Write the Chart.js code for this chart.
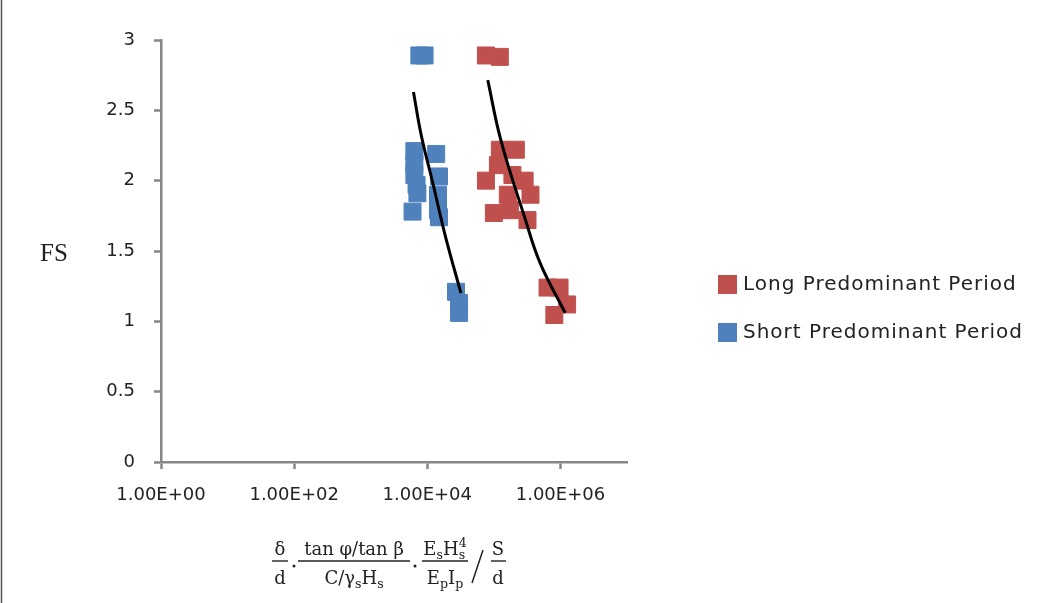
<!DOCTYPE html>
<html><head><meta charset="utf-8">
<script src="https://cdn.jsdelivr.net/npm/chart.js@4.4.0/dist/chart.umd.min.js"></script>
<style>html,body{margin:0;padding:0;background:#fff;}#wrap{width:1041px;height:603px;position:relative;}</style>
</head><body><div id="wrap"><canvas id="c" width="1041" height="603"></canvas></div>
<script>
const seriesNames = ['Long Predominant Period', 'Short Predominant Period'];
const longX = [7.6e4, 1.23e5, 7.6e4, 1.15e5, 1.23e5, 2.14e5, 1.9e5, 2.9e5, 3.55e5, 1.62e5, 1.0e5, 1.74e5, 3.2e5, 6.4e5, 9.7e5, 8.1e5, 1.26e6];
const longY = [2.89, 2.88, 2.00, 2.11, 2.22, 2.22, 2.04, 2.00, 1.90, 1.90, 1.77, 1.79, 1.72, 1.24, 1.24, 1.045, 1.12];
const shortX = [7.6e3, 9.1e3, 6.4e3, 6.4e3, 6.4e3, 6.9e3, 7.1e3, 6.0e3, 1.36e4, 1.5e4, 1.45e4, 1.45e4, 1.5e4, 2.7e4, 3.0e4, 3.0e4];
const shortY = [2.89, 2.89, 2.21, 2.12, 2.04, 1.97, 1.91, 1.78, 2.19, 2.03, 1.90, 1.79, 1.74, 1.21, 1.13, 1.06];
const longTrendX = [8.1e4, 1.27e5, 2.9e5, 5.0e5, 1.18e6];
const longTrendY = [2.715, 2.29, 1.74, 1.41, 1.06];
const shortTrendX = [6.2e3, 8.1e3, 1.23e4, 1.86e4, 3.2e4];
const shortTrendY = [2.63, 2.325, 1.97, 1.61, 1.20];
const xTickValues = [1, 100, 10000, 1000000];
const xTickLabels = ['1.00E+00', '1.00E+02', '1.00E+04', '1.00E+06'];
const yTickValues = [0, 0.5, 1, 1.5, 2, 2.5, 3];
const yTickLabels = ['0', '0.5', '1', '1.5', '2', '2.5', '3'];
const yTitle = 'FS';

const RED = '#C0504D', BLUE = '#4F81BD', AXIS = '#868686', TXT = '#222222';
const zip = (xs, ys) => xs.map((x, i) => ({x: x, y: ys[i]}));

const extras = {
  id: 'extras',
  afterDraw(chart) {
    const ctx = chart.ctx;
    ctx.save();
    ctx.strokeStyle = '#555'; ctx.lineWidth = 1.5;
    ctx.beginPath(); ctx.moveTo(1.5, 0); ctx.lineTo(1.5, 603); ctx.stroke();
    ctx.fillStyle = TXT;
    ctx.font = '25px "Liberation Serif"';
    ctx.textAlign = 'center'; ctx.textBaseline = 'middle';
    ctx.fillText(yTitle, 54, 254);
    const lg = [{c: RED, t: seriesNames[0], y: 284}, {c: BLUE, t: seriesNames[1], y: 332}];
    ctx.font = '20px "DejaVu Sans"';
    ctx.textAlign = 'left';
    lg.forEach(l => {
      ctx.fillStyle = l.c; ctx.fillRect(718, l.y - 9, 19, 19);
      ctx.fillStyle = TXT;
      ctx.letterSpacing = '1px';
      ctx.fillText(l.t, 743, l.y + 1);
      ctx.letterSpacing = '0px';
    });
    const F = 18;
    const fam = '"DejaVu Serif"';
    function w(t, s) { ctx.font = s + 'px ' + fam; return ctx.measureText(t).width; }
    function runsWidth(runs) {
      let tot = 0;
      runs.forEach(r => {
        if (!r[1]) tot += w(r[0], F);
        else if (r[1] === 'sub') tot += w(r[0], F * 0.7);
        else tot += Math.max(w(r[0], F * 0.7), w(r[2], F * 0.7));
      });
      return tot;
    }
    function drawRuns(runs, cx, base) {
      let x = cx - runsWidth(runs) / 2;
      ctx.textAlign = 'left'; ctx.textBaseline = 'alphabetic'; ctx.fillStyle = TXT;
      runs.forEach(r => {
        if (!r[1]) { ctx.font = F + 'px ' + fam; ctx.fillText(r[0], x, base); x += w(r[0], F); }
        else if (r[1] === 'sub') { ctx.font = (F * 0.7) + 'px ' + fam; ctx.fillText(r[0], x, base + 4); x += w(r[0], F * 0.7); }
        else {
          ctx.font = (F * 0.7) + 'px ' + fam;
          ctx.fillText(r[0], x, base + 4); ctx.fillText(r[2], x, base - 8);
          x += Math.max(w(r[0], F * 0.7), w(r[2], F * 0.7));
        }
      });
    }
    const fracs = [
      {cx: 280, num: [['δ']], den: [['d']], bar: [272, 288]},
      {cx: 354, num: [['tan φ/tan β']], den: [['C/γ'], ['s', 'sub'], ['H'], ['s', 'sub']], bar: [298, 410]},
      {cx: 445, num: [['E'], ['s', 'sub'], ['H'], ['s', 'subsup', '4']], den: [['E'], ['p', 'sub'], ['I'], ['p', 'sub']], bar: [422, 468]},
      {cx: 498, num: [['S']], den: [['d']], bar: [491, 506]}
    ];
    fracs.forEach(f => {
      drawRuns(f.num, f.cx, 555);
      drawRuns(f.den, f.cx, 584);
      ctx.strokeStyle = TXT; ctx.lineWidth = 1.4;
      ctx.beginPath(); ctx.moveTo(f.bar[0], 561); ctx.lineTo(f.bar[1], 561); ctx.stroke();
    });
    ctx.fillStyle = TXT;
    [[294, 566], [415, 566]].forEach(p => { ctx.beginPath(); ctx.arc(p[0], p[1], 1.5, 0, Math.PI * 2); ctx.fill(); });
    ctx.strokeStyle = TXT; ctx.lineWidth = 1.5;
    ctx.beginPath(); ctx.moveTo(483, 550); ctx.lineTo(472, 583); ctx.stroke();
    ctx.restore();
  }
};

new Chart(document.getElementById('c'), {
  type: 'scatter',
  data: {
    datasets: [
      {label: 'trendShort', data: zip(shortTrendX, shortTrendY), showLine: true, pointRadius: 0, borderColor: '#000', borderWidth: 3, tension: 0.4, fill: false, order: 0},
      {label: 'trendLong', data: zip(longTrendX, longTrendY), showLine: true, pointRadius: 0, borderColor: '#000', borderWidth: 3, tension: 0.4, fill: false, order: 0},
      {label: seriesNames[0], data: zip(longX, longY), pointStyle: 'rect', pointRadius: 12, backgroundColor: RED, borderColor: RED, borderWidth: 1, order: 1},
      {label: seriesNames[1], data: zip(shortX, shortY), pointStyle: 'rect', pointRadius: 12, backgroundColor: BLUE, borderColor: BLUE, borderWidth: 1, order: 1}
    ]
  },
  options: {
    responsive: false,
    animation: false,
    events: [],
    layout: {padding: {left: 0, right: 414, top: 40, bottom: 0}},
    plugins: {legend: {display: false}, tooltip: {enabled: false}},
    scales: {
      x: {
        type: 'logarithmic', min: 1, max: 1e7, position: 'bottom',
        afterBuildTicks: s => { s.ticks = xTickValues.map(v => ({value: v})); },
        afterFit: s => { s.height = 141; },
        ticks: {autoSkip: false, maxRotation: 0, padding: 16, color: TXT, font: {family: 'DejaVu Sans', size: 18},
          callback: v => { const i = xTickValues.indexOf(v); return i >= 0 ? xTickLabels[i] : ''; }},
        grid: {drawOnChartArea: false, drawTicks: true, tickLength: 7, tickColor: AXIS, tickWidth: 2.5},
        border: {display: true, color: AXIS, width: 2.5}
      },
      y: {
        type: 'linear', min: 0, max: 3,
        afterBuildTicks: s => { s.ticks = yTickValues.map(v => ({value: v})); },
        afterFit: s => { s.width = 161; },
        ticks: {padding: 19, color: TXT, font: {family: 'DejaVu Sans', size: 18},
          callback: v => { const i = yTickValues.indexOf(v); return i >= 0 ? yTickLabels[i] : ''; }},
        grid: {drawOnChartArea: false, drawTicks: true, tickLength: 7, tickColor: AXIS, tickWidth: 2.5},
        border: {display: true, color: AXIS, width: 2.5}
      }
    }
  },
  plugins: [extras]
});
</script></body></html>
